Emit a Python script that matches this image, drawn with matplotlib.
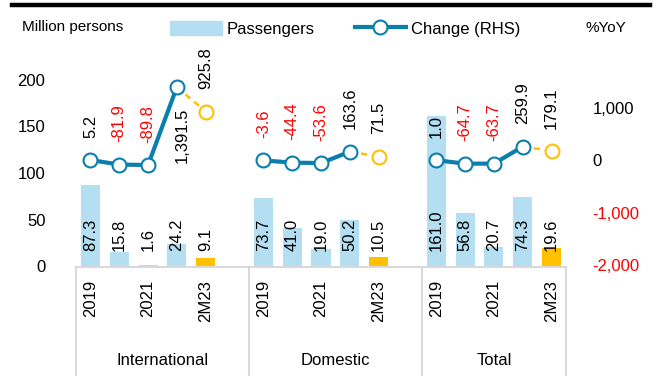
import matplotlib
matplotlib.use("Agg")
import matplotlib.pyplot as plt
from matplotlib.patches import Patch
from matplotlib.lines import Line2D
import matplotlib.transforms as mtransforms

plt.rcParams['font.family'] = ['Liberation Sans', 'DejaVu Sans']

# %%
# Data
groups = ["International", "Domestic", "Total"]
years = ["2019", "2020", "2021", "2022", "2M23"]
year_ticks = ["2019", "", "2021", "", "2M23"]
passengers = {
    "International": [87.3, 15.8, 1.6, 24.2, 9.1],
    "Domestic": [73.7, 41.0, 19.0, 50.2, 10.5],
    "Total": [161.0, 56.8, 20.7, 74.3, 19.6],
}
change_yoy = {
    "International": [5.2, -81.9, -89.8, 1391.5, 925.8],
    "Domestic": [-3.6, -44.4, -53.6, 163.6, 71.5],
    "Total": [1.0, -64.7, -63.7, 259.9, 179.1],
}

blue_bar = "#B4DEF2"
yellow = "#FFC000"
line_blue = "#0B7FAB"
grey = "#D9D9D9"

fig = plt.figure(figsize=(6.54, 3.76), dpi=100)
ax = fig.add_axes([76 / 654, 1 - 266.5 / 376, 490 / 654, 233.5 / 376])
ax2 = ax.twinx()

# slot positions: 5 bars + one empty slot per group (last group has none)
positions = {}
start = 0
for g in groups:
    positions[g] = [start + i for i in range(len(years))]
    start += len(years) + 1

tick_pos, tick_lab = [], []
for g in groups:
    xs = positions[g]
    colors = [blue_bar] * 4 + [yellow]
    ax.bar(xs, passengers[g], width=0.66, color=colors, zorder=2)
    for x, v in zip(xs, passengers[g]):
        ax.annotate(f"{v:.1f}", (x, 0), xytext=(0, 11.5), textcoords="offset points",
                    rotation=90, ha="center", va="bottom", fontsize=12, zorder=5)
    tick_pos += xs
    tick_lab += year_ticks

    ch = change_yoy[g]
    ax2.plot(xs[:4], ch[:4], color=line_blue, lw=3, marker="o", ms=10,
             mfc="white", mec=line_blue, mew=1.5, zorder=4)
    ax2.plot(xs[3:], ch[3:], color=yellow, lw=1.8, ls=(0, (2.5, 2)), zorder=3)
    ax2.plot(xs[4], ch[4], marker="o", ms=10, mfc="white", mec=yellow, mew=1.5,
             ls="none", zorder=4)
    for x, v in zip(xs, ch):
        col = "red" if v < 0 else "black"
        if v > 1000:
            ax2.annotate(f"{v:,.1f}", (x, v), xytext=(4, -15), textcoords="offset points",
                         rotation=90, ha="center", va="top", fontsize=12, color=col)
        else:
            ax2.annotate(f"{v:,.1f}", (x, v), xytext=(0, 16), textcoords="offset points",
                         rotation=90, ha="center", va="bottom", fontsize=12, color=col)

ax.set_xlim(-0.5, start - 1.5)
ax.set_ylim(0, 250)
ax.set_yticks([0, 50, 100, 150, 200])
ax.set_xticks(tick_pos)
ax.set_xticklabels(tick_lab, rotation=90, fontsize=12)
ax.tick_params(axis="x", length=0, pad=9.5)
ax.tick_params(axis="y", length=0, pad=22, labelsize=12)

ax2.set_ylim(-2020, 2420)
ax2.set_yticks([-2000, -1000, 0, 1000])
ax2.set_yticklabels([f"{t:,}" for t in [-2000, -1000, 0, 1000]], fontsize=12)
for lab, t in zip(ax2.get_yticklabels(), [-2000, -1000, 0, 1000]):
    lab.set_color("red" if t < 0 else "black")
ax2.tick_params(axis="y", length=0, pad=19)

for a in (ax, ax2):
    for s in ("top", "left", "right"):
        a.spines[s].set_visible(False)
ax2.spines["bottom"].set_visible(False)
ax.spines["bottom"].set_color(grey)
ax.spines["bottom"].set_linewidth(1.5)

# group separators and labels below the axis
trans = mtransforms.blended_transform_factory(ax.transData, ax.transAxes)
bounds = [-0.5] + [positions[g][-1] + 0.5 + (1 if g != groups[-1] else 0) for g in groups]
for b in bounds:
    ax.plot([b, b], [0, -0.48], color=grey, lw=1.5, transform=trans, clip_on=False)
for g, lo, hi in zip(groups, bounds[:-1], bounds[1:]):
    ax.annotate(g, ((lo + hi) / 2, 0), xycoords=trans, xytext=(0, -67.5),
                textcoords="offset points", ha="center", va="center", fontsize=12)

# header
fig.add_artist(Line2D([12 / 654, 650 / 654], [1 - 5 / 376] * 2, color="black", lw=3.2))
fig.text(22 / 654, 1 - 27 / 376, "Million persons", fontsize=11, va="center")
fig.text(586 / 654, 1 - 28 / 376, "%YoY", fontsize=11, va="center")
handles = [Patch(color=blue_bar),
           Line2D([], [], color=line_blue, lw=3, marker="o", ms=10, mfc="white",
                  mec=line_blue, mew=1.5)]
fig.legend(handles, ["Passengers", "Change (RHS)"], ncol=2, frameon=False,
           loc="center left", bbox_to_anchor=(170 / 654, 1 - 29 / 376),
           borderpad=0, borderaxespad=0, handlelength=3.1, handleheight=0.9,
           handletextpad=0.3, columnspacing=2.4, fontsize=12)

fig.savefig("out.png", dpi=100)
